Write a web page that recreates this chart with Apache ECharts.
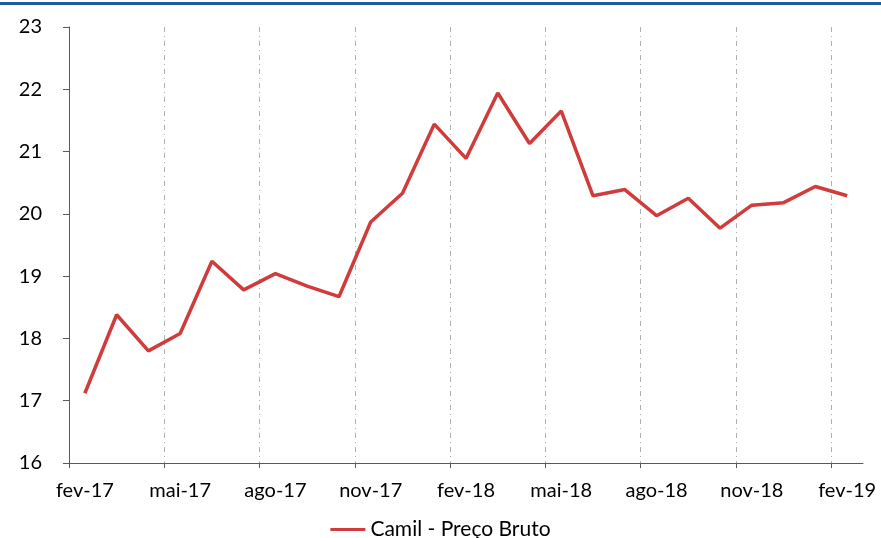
<!DOCTYPE html>
<html>
<head>
<meta charset="utf-8">
<script src="https://cdn.jsdelivr.net/npm/echarts@6/dist/echarts.min.js"></script>
<style>
  html, body { margin: 0; padding: 0; background: #fff; }
  #chart { width: 881px; height: 538px; }
</style>
</head>
<body>
<div id="chart"></div>
<script>
// meses (fev-17 .. fev-19)
const months = [
  'fev-17', 'mar-17', 'abr-17', 'mai-17', 'jun-17', 'jul-17', 'ago-17', 'set-17', 'out-17',
  'nov-17', 'dez-17', 'jan-18', 'fev-18', 'mar-18', 'abr-18', 'mai-18', 'jun-18', 'jul-18',
  'ago-18', 'set-18', 'out-18', 'nov-18', 'dez-18', 'jan-19', 'fev-19'
];
const precoBruto = [
  17.12, 18.38, 17.80, 18.08, 19.24, 18.78, 19.04, 18.84, 18.67,
  19.87, 20.33, 21.44, 20.89, 21.94, 21.13, 21.65, 20.29, 20.39,
  19.97, 20.25, 19.77, 20.14, 20.18, 20.44, 20.29
];
const seriesName = 'Camil - Preço Bruto';
const yMin = 16, yMax = 23, yStep = 1;

// limites entre meses (para os traços verticais e ticks), um a mais que os meses
const boundaries = months.map((m, i) => i).concat([months.length]);

const font = 'Lato, "Liberation Sans", sans-serif';
const red = '#D03B3B';
const myChart = echarts.init(document.getElementById('chart'));

const option = {
  animation: false,
  textStyle: { fontFamily: font },
  graphic: [
    {
      type: 'rect',
      shape: { x: 0, y: 2, width: 881, height: 3 },
      style: { fill: '#1F5A9E' }
    }
  ],
  grid: { left: 69, right: 18, top: 27, bottom: 75 },
  legend: {
    bottom: -7,
    left: 'center',
    data: [{ name: seriesName, icon: 'rect' }],
    itemWidth: 35,
    itemHeight: 3,
    textStyle: { fontFamily: font, fontSize: 21, color: '#000' }
  },
  xAxis: [
    {
      type: 'category',
      data: months,
      boundaryGap: true,
      axisLine: { lineStyle: { color: '#595959', width: 1 } },
      axisTick: { show: false },
      axisLabel: { interval: 2, margin: 18, fontSize: 20, color: '#000', fontFamily: font },
      splitLine: { show: false }
    },
    {
      type: 'category',
      data: boundaries,
      boundaryGap: false,
      position: 'bottom',
      axisLine: { show: false },
      axisTick: { interval: 2, length: 5, lineStyle: { color: '#595959' } },
      axisLabel: { show: false, showMaxLabel: false },
      splitLine: {
        show: true,
        interval: (i) => i % 3 === 0 && i > 0 && i < months.length,
        lineStyle: { color: '#B0B0B0', width: 1, type: [5, 4, 1, 4] }
      }
    }
  ],
  yAxis: {
    type: 'value',
    min: yMin,
    max: yMax,
    interval: yStep,
    axisLine: { show: true, lineStyle: { color: '#595959', width: 1 } },
    axisTick: { show: true, length: 6, lineStyle: { color: '#595959' } },
    axisLabel: { margin: 27, fontSize: 20, color: '#000', fontFamily: font },
    splitLine: { show: false }
  },
  series: [
    {
      name: seriesName,
      type: 'line',
      xAxisIndex: 0,
      data: precoBruto,
      symbol: 'none',
      lineStyle: { color: red, width: 3.5 },
      itemStyle: { color: red }
    }
  ]
};

myChart.setOption(option);
</script>
</body>
</html>
